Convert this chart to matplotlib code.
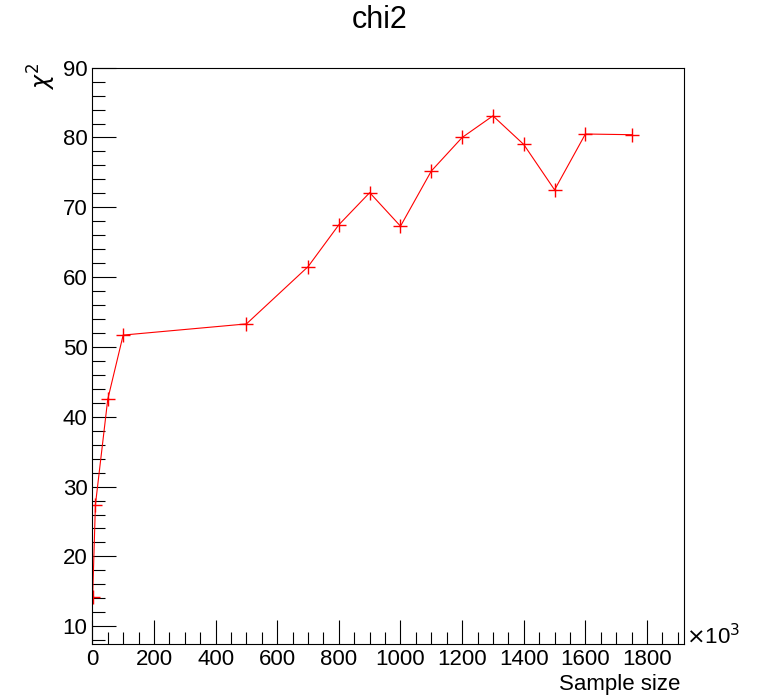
import matplotlib
matplotlib.use("Agg")
import matplotlib.pyplot as plt
from matplotlib.ticker import MultipleLocator

plt.rcParams['font.family'] = ['Liberation Sans', 'DejaVu Sans']

# sample size (x10^3) and chi2 values
sample_size = [1, 10, 50, 100, 500, 700, 800, 900, 1000, 1100, 1200, 1300, 1400, 1500, 1600, 1750]
chi2 = [14.2, 27.4, 42.5, 51.7, 53.3, 61.5, 67.5, 72.1, 67.3, 75.2, 80.0, 83.1, 79.0, 72.5, 80.5, 80.4]

fig = plt.figure(figsize=(7.6, 6.97), dpi=100)
ax = fig.add_axes([0.1215, 0.076, 0.9 - 0.1215, 0.9029 - 0.076])

ax.plot(sample_size, chi2, color='red', lw=0.8, marker='+', ms=10, mew=1.0)

ax.set_xlim(0, 1920)
ax.set_ylim(7.45, 90)
ax.xaxis.set_major_locator(MultipleLocator(200))
ax.xaxis.set_minor_locator(MultipleLocator(50))
ax.yaxis.set_major_locator(MultipleLocator(10))
ax.yaxis.set_minor_locator(MultipleLocator(2))
ax.tick_params(which='both', direction='in', top=False, right=False, labelsize=16, width=0.8)
ax.tick_params(which='major', length=17)
ax.tick_params(which='minor', length=9)
for s in ax.spines.values():
    s.set_linewidth(0.8)

fig.text(0.5, 0.972, "chi2", ha='center', va='center', fontsize=22)
fig.text(0.055, 0.89, r"$\chi^{2}$", rotation=90, ha='center', va='center', fontsize=17)
fig.text(0.895, 0.018, "Sample size", ha='right', va='center', fontsize=16)
fig.text(0.902, 0.086, r"$\times$10$^{3}$", ha='left', va='center', fontsize=16)

fig.savefig("out.png", dpi=100)
